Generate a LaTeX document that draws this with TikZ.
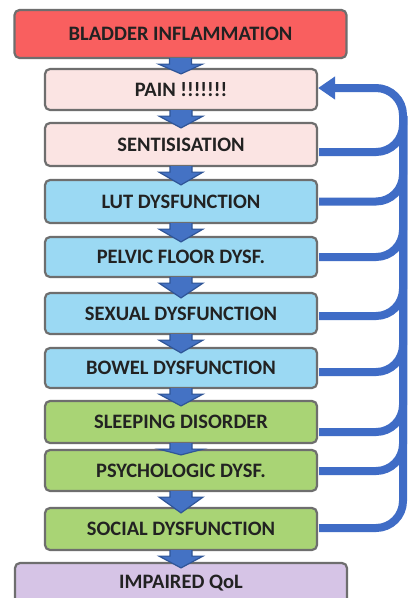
\documentclass[tikz,border=0pt]{standalone}
\usepackage{fontspec}
\setmainfont{Carlito}
\usetikzlibrary{calc,arrows.meta}
\definecolor{cred}{HTML}{F95F5F}
\definecolor{cpink}{HTML}{FBE4E3}
\definecolor{cblue}{HTML}{9BD9F3}
\definecolor{cgreen}{HTML}{A9D475}
\definecolor{cpurple}{HTML}{D6C4E6}
\definecolor{cborder}{HTML}{6E6E6E}
\definecolor{ctext}{HTML}{222222}
\definecolor{arrfill}{HTML}{4472C4}
\definecolor{arrline}{HTML}{2F5597}
\definecolor{fbcol}{HTML}{3F6CC6}
\tikzset{
  box/.style={draw=cborder, line width=2.2pt, rounded corners=5pt, minimum width=272pt,
    minimum height=42pt, inner sep=0pt, text=ctext,
    font=\bfseries\fontsize{20.5}{23}\selectfont},
  widebox/.style={box, minimum width=332pt},
  blk/.style={fill=arrfill, draw=arrline, line width=1.2pt, line join=miter},
  fb/.style={draw=fbcol, line width=8pt, rounded corners=27pt},
}
\newcommand\dnarrow[2]{%
  \draw[blk] ($(#1.south)+(-11,-1)$) -- ($(#1.south)+(-11,5)$) -- ($(#1.south)+(-22,5)$)
    -- ($(#2.north)+(0,6)$) -- ($(#1.south)+(22,5)$) -- ($(#1.south)+(11,5)$)
    -- ($(#1.south)+(11,-1)$);}
\begin{document}
\begin{tikzpicture}[x=1pt,y=-1pt]
\useasboundingbox[fill=white] (0,0) rectangle (408,598);
\clip (0,0) rectangle (408,598);
\node[widebox, fill=cred, minimum height=48pt] (bladder) at (180.5,34) {BLADDER INFLAMMATION};
\node[box, fill=cpink, minimum height=41pt] (pain) at (181,89.5) {PAIN !!!!!!!};
\node[box, fill=cpink, minimum height=43pt] (sent) at (181,144.5) {SENTISISATION};
\node[box, fill=cblue, minimum height=43pt] (lut) at (181,201.5) {LUT DYSFUNCTION};
\node[box, fill=cblue, minimum height=40pt] (pelvic) at (181,257) {PELVIC FLOOR DYSF.};
\node[box, fill=cblue, minimum height=41pt] (sexual) at (181,313.5) {SEXUAL DYSFUNCTION};
\node[box, fill=cblue, minimum height=40pt] (bowel) at (181,368) {BOWEL DYSFUNCTION};
\node[box, fill=cgreen, minimum height=42pt] (sleep) at (181,422) {SLEEPING DISORDER};
\node[box, fill=cgreen, minimum height=41pt] (psych) at (181,470.5) {PSYCHOLOGIC DYSF.};
\node[box, fill=cgreen, minimum height=42pt] (social) at (181,529) {SOCIAL DYSFUNCTION};
\node[widebox, fill=cpurple, minimum height=40pt] (qol) at (181,583) {IMPAIRED QoL};
% down arrows
\dnarrow{bladder}{pain}
\dnarrow{pain}{sent}
\dnarrow{sent}{lut}
\dnarrow{lut}{pelvic}
\dnarrow{pelvic}{sexual}
\dnarrow{sexual}{bowel}
\dnarrow{bowel}{sleep}
\dnarrow{sleep}{psych}
\dnarrow{psych}{social}
\dnarrow{social}{qol}
% feedback loops
\coordinate (top) at (403,88);
\coordinate (join) at (403,116);
\draw[fb, -{Triangle[length=17pt,width=22pt]}] ([xshift=1pt,yshift=1pt]social.east) -| (top) -- ([yshift=1.5pt]pain.east);
\draw[fb] ([xshift=1pt,yshift=-0.5pt]psych.east) -| (join);
\draw[fb] ([xshift=1pt,yshift=-10pt]sleep.east) -| (join);
\draw[fb] ([xshift=1pt,yshift=-4pt]bowel.east) -| (join);
\draw[fb] ([xshift=1pt,yshift=-2.5pt]sexual.east) -| (join);
\draw[fb] ([xshift=1pt]pelvic.east) -| (join);
\draw[fb] ([xshift=1pt]lut.east) -| (join);
\draw[fb] ([xshift=1pt,yshift=-7.5pt]sent.east) -| (join);
\end{tikzpicture}
\end{document}
